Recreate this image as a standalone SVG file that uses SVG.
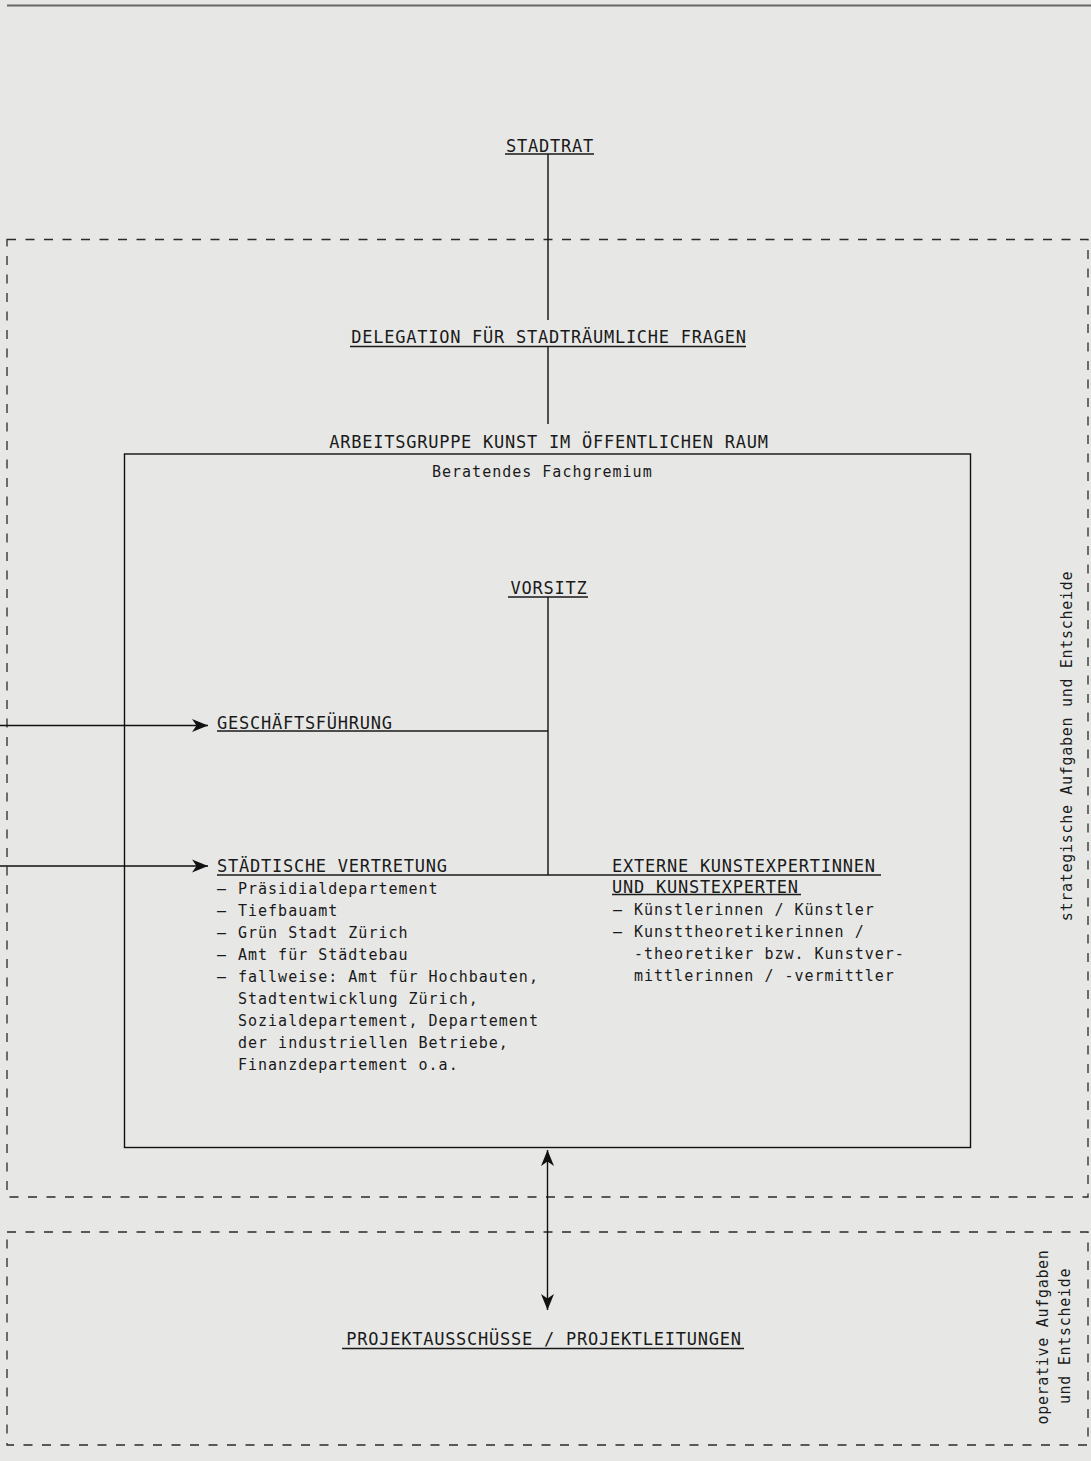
<svg xmlns="http://www.w3.org/2000/svg" width="1091" height="1461" viewBox="0 0 1091 1461">
<style>
.bg{fill:#e7e8e6}
.hd{font-family:"DejaVu Sans Mono","Liberation Mono",monospace;font-size:17px;letter-spacing:0.75px;fill:#1a1a1a}
.tx{font-family:"DejaVu Sans Mono","Liberation Mono",monospace;font-size:15px;letter-spacing:1px;fill:#1a1a1a}
.vt{font-family:"DejaVu Sans Mono","Liberation Mono",monospace;font-size:15px;letter-spacing:0.7px;fill:#1a1a1a}
.ul{stroke:#1a1a1a;stroke-width:1.4;fill:none}
.ln{stroke:#111;stroke-width:1.4;fill:none}
.dash{stroke:#2a2a2a;stroke-width:1.3;fill:none;stroke-dasharray:9 9.5}
</style>
<defs>
<marker id="ah" markerUnits="userSpaceOnUse" markerWidth="18" markerHeight="14" viewBox="0 0 18 14" refX="16" refY="7" orient="auto-start-reverse">
<path d="M0,0.5 L16,7 L0,13.5 L4.5,7 Z" fill="#111"/>
</marker>
</defs>
<rect class="bg" x="0" y="0" width="1091" height="1461"/>
<line x1="7" y1="5.5" x2="1091" y2="5.5" stroke="#666" stroke-width="2"/>

<g id="zone-strategic">
<rect class="dash" x="7" y="239.5" width="1081" height="957.5"/>
<text class="vt" transform="translate(1072,746) rotate(-90)" text-anchor="middle">strategische Aufgaben und Entscheide</text>
</g>
<g id="zone-operative">
<rect class="dash" x="7" y="1232" width="1081" height="213"/>
<text class="vt" transform="translate(1048,1337) rotate(-90)" text-anchor="middle">operative Aufgaben</text>
<text class="vt" transform="translate(1070,1336) rotate(-90)" text-anchor="middle">und Entscheide</text>
</g>

<g id="connectors">
<line class="ln" x1="548" y1="154" x2="548" y2="320"/>
<line class="ln" x1="548" y1="347" x2="548" y2="424"/>
<line class="ln" x1="548" y1="597" x2="548" y2="875"/>
<line class="ln" x1="0" y1="725.5" x2="208" y2="725.5" marker-end="url(#ah)"/>
<line class="ln" x1="0" y1="866" x2="208" y2="866" marker-end="url(#ah)"/>
<line class="ln" x1="547.5" y1="1150" x2="547.5" y2="1310" marker-start="url(#ah)" marker-end="url(#ah)"/>
</g>

<g id="stadtrat">
<text class="hd" x="550" y="152" text-anchor="middle">STADTRAT</text>
<line class="ul" x1="505" y1="154" x2="594" y2="154"/>
</g>

<g id="delegation">
<text class="hd" x="549" y="343" text-anchor="middle">DELEGATION FÜR STADTRÄUMLICHE FRAGEN</text>
<line class="ul" x1="350" y1="346.5" x2="746" y2="346.5"/>
</g>

<g id="arbeitsgruppe">
<text class="hd" x="549" y="448" text-anchor="middle">ARBEITSGRUPPE KUNST IM ÖFFENTLICHEN RAUM</text>
<rect class="ln" x="124.5" y="454" width="846" height="693.5"/>
<text class="tx" x="432" y="477">Beratendes Fachgremium</text>
</g>

<g id="vorsitz">
<text class="hd" x="549" y="594" text-anchor="middle">VORSITZ</text>
<line class="ul" x1="508" y1="597" x2="588" y2="597"/>
</g>

<g id="geschaeftsfuehrung">
<text class="hd" x="217" y="728.5">GESCHÄFTSFÜHRUNG</text>
<line class="ul" x1="217" y1="731" x2="548" y2="731"/>
</g>

<g id="staedtische-vertretung">
<text class="hd" x="217" y="872">STÄDTISCHE VERTRETUNG</text>
<line class="ul" x1="217" y1="875" x2="881" y2="875"/>
<text class="tx" x="217" y="894">–</text><text class="tx" x="238" y="894">Präsidialdepartement</text>
<text class="tx" x="217" y="916">–</text><text class="tx" x="238" y="916">Tiefbauamt</text>
<text class="tx" x="217" y="938">–</text><text class="tx" x="238" y="938">Grün Stadt Zürich</text>
<text class="tx" x="217" y="960">–</text><text class="tx" x="238" y="960">Amt für Städtebau</text>
<text class="tx" x="217" y="982">–</text><text class="tx" x="238" y="982">fallweise: Amt für Hochbauten,</text>
<text class="tx" x="238" y="1004">Stadtentwicklung Zürich,</text>
<text class="tx" x="238" y="1026">Sozialdepartement, Departement</text>
<text class="tx" x="238" y="1048">der industriellen Betriebe,</text>
<text class="tx" x="238" y="1070">Finanzdepartement o.a.</text>
</g>

<g id="externe">
<text class="hd" x="612" y="871.5">EXTERNE KUNSTEXPERTINNEN</text>
<text class="hd" x="612" y="892.5">UND KUNSTEXPERTEN</text>
<line class="ul" x1="612" y1="894.5" x2="801" y2="894.5"/>
<text class="tx" x="613" y="915">–</text><text class="tx" x="634" y="915">Künstlerinnen / Künstler</text>
<text class="tx" x="613" y="937">–</text><text class="tx" x="634" y="937">Kunsttheoretikerinnen /</text>
<text class="tx" x="634" y="959">-theoretiker bzw. Kunstver-</text>
<text class="tx" x="634" y="981">mittlerinnen / -vermittler</text>
</g>

<g id="projekt">
<text class="hd" x="544" y="1345" text-anchor="middle">PROJEKTAUSSCHÜSSE / PROJEKTLEITUNGEN</text>
<line class="ul" x1="342" y1="1348.5" x2="744" y2="1348.5"/>
</g>
</svg>
